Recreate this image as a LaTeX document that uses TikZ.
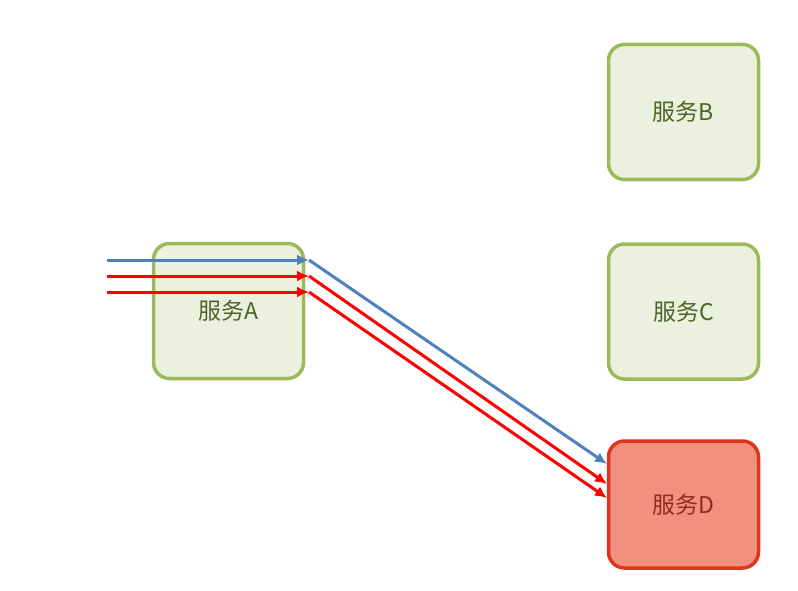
\documentclass[tikz,border=0pt]{standalone}
\usepackage{fontspec}
\setmainfont{Noto Sans CJK SC}
\usetikzlibrary{arrows.meta}
\definecolor{gfill}{HTML}{EBF1DE}
\definecolor{gline}{HTML}{9BBB59}
\definecolor{gtext}{HTML}{4F6228}
\definecolor{rfill}{HTML}{F2907F}
\definecolor{rline}{HTML}{E0341F}
\definecolor{rtext}{HTML}{8C2E1E}
\definecolor{bl}{HTML}{4F81BD}
\begin{document}
\begin{tikzpicture}[x=1pt,y=-1pt,
  svc/.style={draw=gline,fill=gfill,line width=3.5pt,rounded corners=16pt,minimum width=150pt,minimum height=135pt,text=gtext,font=\fontsize{23}{23}\selectfont},
  bad/.style={svc,draw=rline,fill=rfill,text=rtext},
  ar/.style={line width=3pt,-{Latex[length=12pt,width=11pt]}}]
\useasboundingbox (0,0) rectangle (798,591);
\node[svc] (A) at (228.5,311) {服务A};
\node[svc] (B) at (683.5,112) {服务B};
\node[svc] (C) at (683.5,311.5) {服务C};
\node[bad,minimum height=127pt] (D) at (683.5,504.5) {服务D};
\coordinate (s1) at (107,260); \coordinate (m1) at (309,260); \coordinate (e1) at (607,464);
\coordinate (s2) at (107,276); \coordinate (m2) at (309,276); \coordinate (e2) at (607,484);
\coordinate (s3) at (107,292); \coordinate (m3) at (309,292); \coordinate (e3) at (607,498);
\draw[ar,red] (s2) -- (m2); \draw[ar,red] (m2) -- (e2);
\draw[ar,red] (s3) -- (m3); \draw[ar,red] (m3) -- (e3);
\draw[ar,bl] (s1) -- (m1); \draw[ar,bl] (m1) -- (e1);
\end{tikzpicture}
\end{document}
